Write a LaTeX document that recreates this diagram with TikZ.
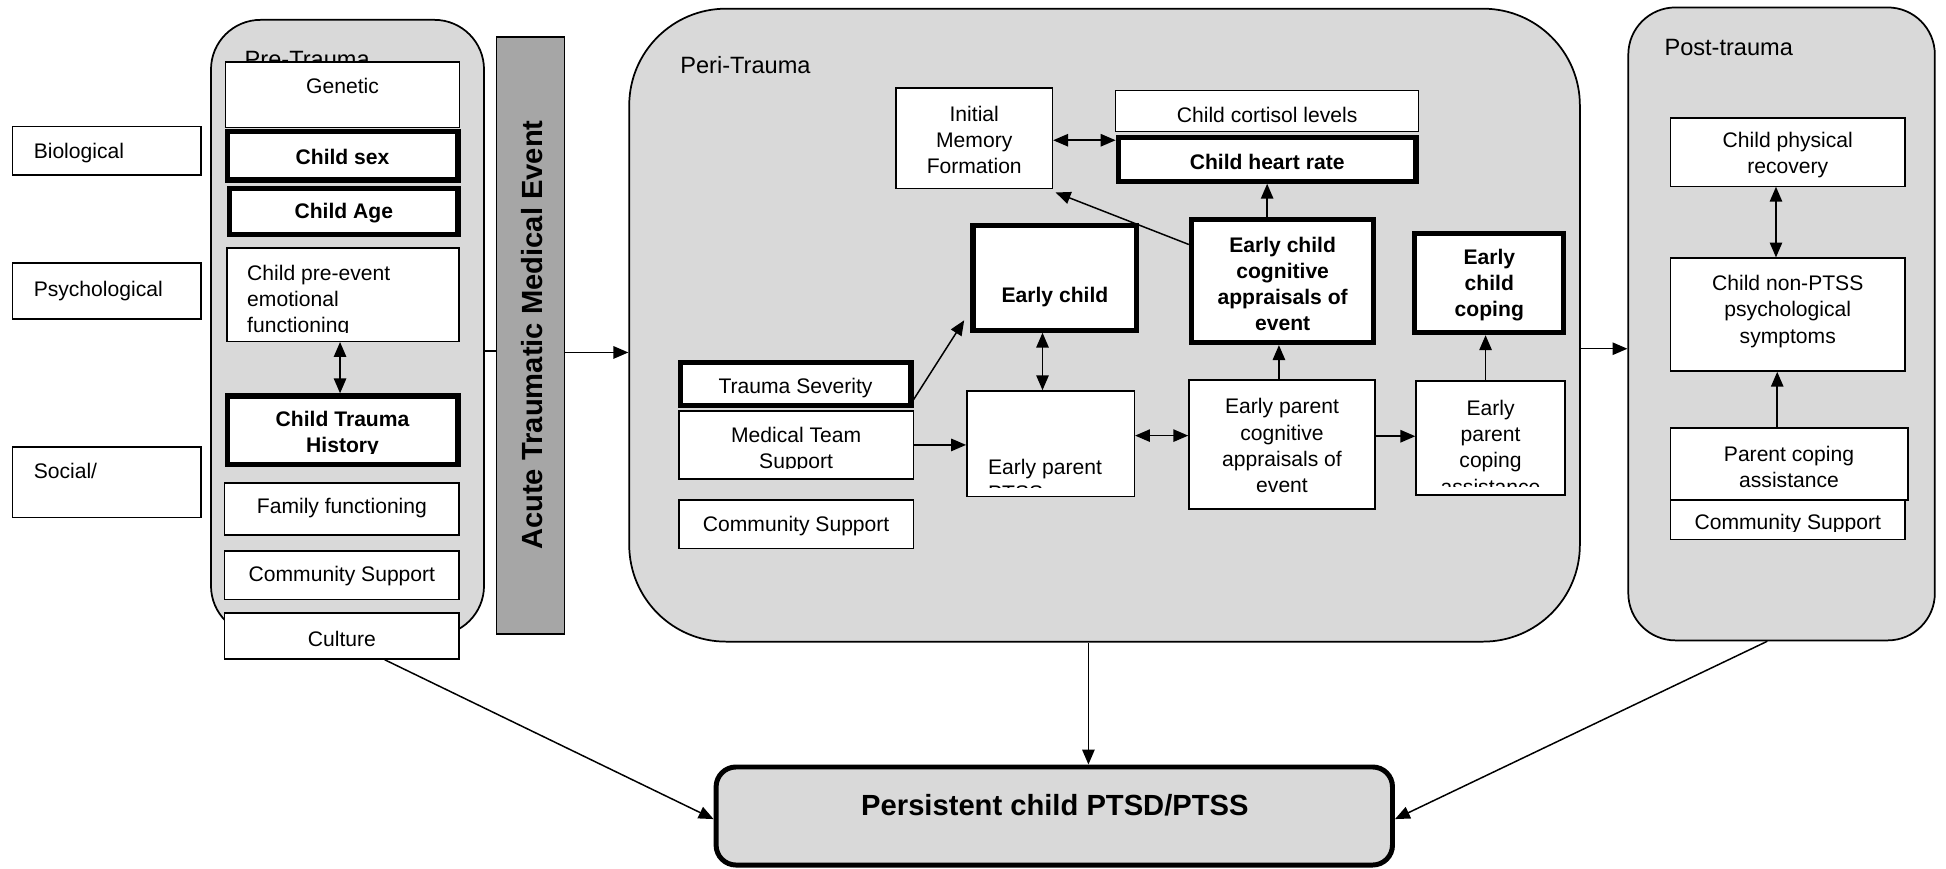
\documentclass[tikz,border=0pt]{standalone}
\usepackage{fontspec}
\setmainfont{Liberation Sans}
\usetikzlibrary{arrows.meta,calc}
\definecolor{panel}{HTML}{D9D9D9}
\definecolor{barfill}{HTML}{A6A6A6}
\tikzset{
  box/.style={draw, fill=white, line width=1.2pt, inner sep=0pt, rectangle},
  thickbox/.style={draw, fill=white, line width=4.2pt, inner sep=0pt, rectangle},
  panelbox/.style={draw, fill=panel, line width=1.4pt, inner sep=0pt, rectangle},
  txt/.style={font=\fontsize{17}{21}\selectfont, align=center, inner sep=0pt, yshift=-1.5pt},
  btxt/.style={font=\fontsize{17}{21}\selectfont\bfseries, align=center, inner sep=0pt, yshift=-1.5pt},
  ltxt/.style={font=\fontsize{17}{21}\selectfont, align=left, inner sep=0pt, anchor=west, yshift=-1.5pt},
  paneltitle/.style={font=\fontsize{19}{23}\selectfont, inner sep=0pt, anchor=base west},
  bigtxt/.style={font=\fontsize{23.5}{28}\selectfont\bfseries, inner sep=0pt},
  arr/.style={-{Triangle[length=12pt,width=10pt]}, line width=1.2pt},
  darr/.style={{Triangle[length=12pt,width=10pt]}-{Triangle[length=12pt,width=10pt]}, line width=1.2pt},
  plain/.style={line width=1.2pt},
}
\begin{document}
\begin{tikzpicture}[x=1pt,y=-1pt]
\useasboundingbox (0,0) rectangle (1568,700);

% ---------- left category labels ----------
\node[box, minimum width=152pt, minimum height=39pt] (bio) at (86,121.5) {};
\node[txt, anchor=west] (biot) at (27,121.5) {Biological};
\node[box, minimum width=152pt, minimum height=45pt] (psy) at (86,234.5) {};
\node[txt, anchor=west] (psyt) at (27,233) {Psychological};
\node[box, minimum width=152pt, minimum height=57pt] (soc) at (86,388.5) {};
\node[txt, anchor=west] (soct) at (27,378) {Social/};

% ---------- Pre-Trauma panel ----------
\node[panelbox, rounded corners=40pt, minimum width=220pt, minimum height=496pt] (pre) at (280,264) {};
\node[paneltitle] (pret) at (197,54) {Pre-Trauma};
\node[box, line width=1pt, minimum width=188pt, minimum height=53pt] (gen) at (276,76.5) {};
\node[txt] (gent) at (276,68) {Genetic};
\node[thickbox, minimum width=186pt, minimum height=39pt] (csex) at (276,125.5) {};
\node[btxt] (csext) at (276,125) {Child sex};
\node[thickbox, minimum width=184pt, minimum height=37pt] (cage) at (277,170.5) {};
\node[btxt] (caget) at (277,170) {Child Age};
\node[box, minimum width=187pt, minimum height=75pt] (cpe) at (276.5,237.5) {};
\begin{scope}
  \clip (cpe.north west) rectangle ([yshift=8pt]cpe.south east);
  \node[ltxt] (cpet) at (199,241) {Child pre-event\\emotional\\functioning};
\end{scope}
\node[thickbox, minimum width=186pt, minimum height=55pt] (cth) at (276,346.5) {};
\begin{scope}
  \clip (cth.north west) rectangle ([yshift=11pt]cth.south east);
  \node[btxt] (ctht) at (276,348) {Child Trauma\\History};
\end{scope}
\node[box, minimum width=189pt, minimum height=42pt] (fam) at (275.5,410) {};
\node[txt] (famt) at (275.5,408) {Family functioning};
\node[box, minimum width=189pt, minimum height=39pt] (cs1) at (275.5,463.5) {};
\node[txt] (cs1t) at (275.5,463) {Community Support};
\node[box, minimum width=189pt, minimum height=37pt] (cul) at (275.5,512.5) {};
\node[txt] (cult) at (275.5,513) {Culture};

% ---------- Acute event bar ----------
\node[draw, fill=barfill, line width=1.2pt, minimum width=55pt, minimum height=481pt, inner sep=0pt] (bar) at (427.5,270.5) {};
\node[bigtxt, rotate=90] (bart) at (428.5,270) {Acute Traumatic Medical Event};

% ---------- Peri-Trauma panel ----------
\node[panelbox, rounded corners=78pt, minimum width=766pt, minimum height=510pt] (peri) at (890,262) {};
\node[paneltitle] (perit) at (548,59) {Peri-Trauma};

\node[box, minimum width=126pt, minimum height=81pt] (im) at (785,111.5) {};
\node[txt] (imt) at (785,111) {Initial\\Memory\\Formation};
\node[box, minimum width=244pt, minimum height=33pt] (cort) at (1021,89.5) {};
\node[txt] (cortt) at (1021,91) {Child cortisol levels};
\node[thickbox, minimum width=240pt, minimum height=35pt] (hr) at (1021,128.5) {};
\node[btxt] (hrt) at (1021,129) {Child heart rate};

\node[thickbox, minimum width=147pt, minimum height=99pt] (ecc) at (1033.5,226.5) {};
\node[btxt] (ecct) at (1033.5,227.5) {Early child\\cognitive\\appraisals of\\event};
\node[thickbox, minimum width=132pt, minimum height=84pt] (ec) at (850,224) {};
\node[btxt] (ect) at (850,238) {Early child};
\node[thickbox, minimum width=120pt, minimum height=80pt] (ecp) at (1200,228) {};
\node[btxt] (ecpt) at (1200,228.5) {Early\\child\\coping};

\node[box, minimum width=189pt, minimum height=55pt] (mts) at (641.5,358.5) {};
\begin{scope}
  \clip (mts.north west) rectangle ([yshift=9pt]mts.south east);
  \node[txt] (mtst) at (641.5,361.5) {Medical Team\\Support};
\end{scope}
\node[thickbox, minimum width=186pt, minimum height=35pt] (ts) at (641,309.5) {};
\node[txt] (tst) at (641,311) {Trauma Severity};
\node[box, minimum width=189pt, minimum height=39pt] (cs2) at (641.5,422.5) {};
\node[txt] (cs2t) at (641.5,422) {Community Support};

\node[box, minimum width=135pt, minimum height=85pt] (epp) at (846.5,357.5) {};
\begin{scope}
  \clip (epp.north west) rectangle ([yshift=8pt]epp.south east);
  \node[ltxt] (eppt) at (796,385) {Early parent\\PTSS};
\end{scope}
\node[box, minimum width=150pt, minimum height=104pt] (epc) at (1033,358) {};
\node[txt] (epct) at (1033,357.5) {Early parent\\cognitive\\appraisals of\\event};
\node[box, minimum width=120pt, minimum height=92pt] (epca) at (1201,353) {};
\begin{scope}
  \clip (epca.north west) rectangle ([yshift=8pt]epca.south east);
  \node[txt] (epcat) at (1201,359) {Early\\parent\\coping\\assistance};
\end{scope}

% ---------- Post-trauma panel ----------
\node[panelbox, rounded corners=38pt, minimum width=247pt, minimum height=510pt] (post) at (1435.5,261) {};
\node[paneltitle] (postt) at (1341,45) {Post-trauma};
\node[box, line width=1pt, minimum width=189pt, minimum height=55pt] (cpr) at (1440.5,122.5) {};
\node[txt] (cprt) at (1440.5,123.5) {Child physical\\recovery};
\node[box, minimum width=189pt, minimum height=91pt] (cnp) at (1440.5,253.5) {};
\node[txt] (cnpt) at (1440.5,249.5) {Child non-PTSS\\psychological\\symptoms};
\node[box, line width=1pt, minimum width=189pt, minimum height=32pt] (cs3) at (1440.5,419) {};
\begin{scope}
  \clip (cs3.north west) rectangle ([yshift=7pt]cs3.south east);
  \node[txt] (cs3t) at (1440.5,421) {Community Support};
\end{scope}
\node[box, line width=1.6pt, minimum width=191pt, minimum height=58pt] (pca) at (1441.5,374) {};
\node[txt] (pcat) at (1441.5,375) {Parent coping\\assistance};

% ---------- outcome ----------
\node[draw, fill=panel, line width=4pt, rounded corners=16pt, minimum width=545pt, minimum height=79pt, inner sep=0pt] (pers) at (849.5,657.5) {};
\node[bigtxt] (perst) at (850,649) {Persistent child PTSD/PTSS};

% ---------- connectors ----------
% pre-trauma
\coordinate (q1) at ([xshift=-2.5pt]cpe.south);
\draw[darr] (q1) -- (q1 |- cth.north);
\coordinate (q2) at ([yshift=-19pt]pre.east);
\draw[plain] (q2) -- (q2 -| bar.west);
\coordinate (q3) at ([yshift=-13.5pt]bar.east);
\draw[arr] (q3) -- (q3 -| peri.west);

% peri-trauma
\coordinate (q4) at ([yshift=-1.5pt]im.east);
\draw[darr] (q4) -- (q4 -| hr.west);
\draw[arr] (ecc.north -| hr.south) -- (hr.south);
\draw[arr] ([yshift=29.5pt]ecc.west) -- ([shift={(2pt,-2.5pt)}]im.south east);
\draw[arr] ([yshift=-12.5pt]ts.east) -- ([shift={(-5pt,10pt)}]ec.south west);
\draw[arr] (mts.east) -- (mts.east -| epp.west);
\coordinate (q5) at ([xshift=-10pt]ec.south);
\draw[darr] (q5) -- (q5 |- epp.north);
\coordinate (q6) at ([yshift=6.5pt]epp.east);
\draw[darr] (q6) -- (q6 -| epc.west);
\coordinate (q7) at ([yshift=6.5pt]epc.east);
\draw[arr] (q7) -- (q7 -| epca.west);
\coordinate (q8) at ([xshift=-2.5pt]epc.north);
\draw[arr] (q8) -- (q8 |- ecc.south);
\coordinate (q9) at ([xshift=-4pt]epca.north);
\draw[arr] (q9) -- (q9 |- ecp.south);
\coordinate (q10) at ([yshift=-19pt]peri.east);
\draw[arr] (q10) -- (q10 -| post.west);

% post-trauma
\coordinate (q11) at ([xshift=-9.5pt]cpr.south);
\draw[darr] (q11) -- (q11 |- cnp.north);
\coordinate (q12) at ([xshift=-9.5pt]pca.north);
\draw[arr] (q12) -- (q12 |- cnp.south);

% to outcome
\draw[arr] ([xshift=34.5pt]cul.south) -- ([yshift=-2.5pt]pers.west);
\coordinate (q13) at ([xshift=27.5pt]pers.north);
\draw[arr] (q13 |- peri.south) -- (q13);
\draw[arr] ([xshift=-11.5pt]post.south) -- ([yshift=-2.5pt]pers.east);
\end{tikzpicture}
\end{document}
